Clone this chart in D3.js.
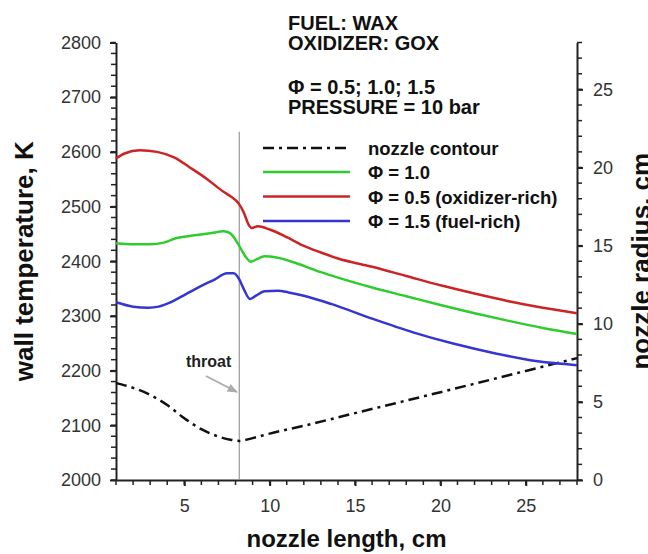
<!DOCTYPE html>
<html><head><meta charset="utf-8">
<script src="https://cdn.jsdelivr.net/npm/d3@7"></script>
<style>
body{margin:0;background:#fff}
svg{display:block}
text{font-family:"Liberation Sans",Arial,Helvetica,sans-serif}
</style>
</head><body>
<svg id="c" width="648" height="554"></svg>
<script>
// ---- data ----
const xTicks = [5, 10, 15, 20, 25];
const tTicks = [2000, 2100, 2200, 2300, 2400, 2500, 2600, 2700, 2800];
const rTicks = [0, 5, 10, 15, 20, 25];
const xMinor = d3.range(1, 29, 1);
const tMinor = d3.range(2000, 2801, 20);
const rMinor = d3.range(0, 29, 1);
const xDomain = [1, 28];
const tDomain = [2000, 2800];
const rDomain = [0, 28];
const throatX = 8.22;
const throatTopT = 2637;

const titleLines = ["FUEL: WAX", "OXIDIZER: GOX", "", "Φ = 0.5; 1.0; 1.5", "PRESSURE = 10 bar"];
const legendLabels = ["nozzle contour", "Φ = 1.0", "Φ = 0.5 (oxidizer-rich)", "Φ = 1.5 (fuel-rich)"];

// Φ = 0.5 (oxidizer-rich) wall temperature, K
const phi05 = [[1,2588],[1.5,2597],[2.4,2603],[3.4,2600],[4.4,2590],[5.3,2572],[6.3,2551],[7.3,2527],[7.7,2519],[8.2,2505],[8.5,2488],[8.75,2468],[8.95,2461],[9.3,2464],[10,2458],[11,2444],[12,2428],[13,2416],[14,2405],[16,2390],[18,2373],[20,2356],[22,2341],[24,2327],[26,2315],[28,2305]];
// Φ = 1.0
const phi10 = [[1,2433],[2,2431],[3,2431],[3.8,2434],[4.5,2442],[5.5,2447],[6.5,2451],[7.3,2455],[7.7,2451],[8.2,2429],[8.6,2408],[8.9,2399],[9.2,2403],[9.7,2409],[10.4,2407],[11.6,2396],[13,2380],[14,2370],[16,2352],[18,2336],[20,2320],[22,2305],[24,2291],[26,2278],[28,2267]];
// Φ = 1.5 (fuel-rich)
const phi15 = [[1,2325],[2,2317],[2.9,2315],[3.5,2317],[4.2,2325],[5.1,2340],[6,2355],[6.8,2367],[7.5,2378],[7.9,2378],[8.2,2368],[8.5,2348],[8.85,2331],[9.2,2337],[9.7,2345],[10.5,2346],[11.1,2343],[12,2337],[13.6,2322],[16,2295],[18.4,2270],[20.8,2249],[23.3,2231],[25.7,2217],[28,2210]];
// nozzle contour radius, cm
const contour = [[1,6.2],[2,5.9],[3,5.45],[4,4.8],[5,3.95],[6,3.25],[7,2.78],[7.7,2.58],[8.22,2.5],[9,2.68],[10,2.97],[12,3.47],[15,4.28],[20,5.62],[25,6.98],[28,7.8]];

// ---- layout ----
const svg = d3.select("#c");
const L = 116, R = 577, T = 42.5, B = 480;
const x = d3.scaleLinear().domain(xDomain).range([L, R]);
const y = d3.scaleLinear().domain(tDomain).range([B, T]);
const yr = d3.scaleLinear().domain(rDomain).range([B, T]);

const axisColor = "#222";
const fmt = d3.format("d");

function styleAxis(g){
  g.selectAll("path.domain").attr("stroke", axisColor).attr("stroke-width", 2);
  g.selectAll(".tick line").attr("stroke", axisColor).attr("stroke-width", 2);
  g.selectAll(".tick text").attr("fill", "#333").style("font-size", "18px")
    .style("font-family", '"Liberation Sans",Arial,sans-serif');
}

// minor ticks (drawn from scales)
const minor = svg.append("g");
minor.selectAll("line.mx").data(xMinor).join("line").attr("class", "mx")
  .attr("x1", d => x(d)).attr("x2", d => x(d)).attr("y1", B).attr("y2", B + 5)
  .attr("stroke", "#222").attr("stroke-width", 1.5);
minor.selectAll("line.mt").data(tMinor).join("line").attr("class", "mt")
  .attr("x1", L - 5).attr("x2", L).attr("y1", d => y(d)).attr("y2", d => y(d))
  .attr("stroke", "#222").attr("stroke-width", 1.5);
minor.selectAll("line.mr").data(rMinor).join("line").attr("class", "mr")
  .attr("x1", R).attr("x2", R + 5).attr("y1", d => yr(d)).attr("y2", d => yr(d))
  .attr("stroke", "#222").attr("stroke-width", 1.5);

// major axes
svg.append("g").attr("transform", `translate(0,${B})`)
  .call(d3.axisBottom(x).tickValues(xTicks).tickFormat(fmt).tickSize(6).tickSizeOuter(0).tickPadding(13))
  .call(styleAxis);
svg.append("g").attr("transform", `translate(${L},0)`)
  .call(d3.axisLeft(y).tickValues(tTicks).tickFormat(fmt).tickSize(6).tickSizeOuter(0).tickPadding(9))
  .call(styleAxis);
svg.append("g").attr("transform", `translate(${R},0)`)
  .call(d3.axisRight(yr).tickValues(rTicks).tickFormat(fmt).tickSize(6).tickSizeOuter(0).tickPadding(10))
  .call(styleAxis);

// throat line
svg.append("line")
  .attr("x1", x(throatX)).attr("x2", x(throatX))
  .attr("y1", y(throatTopT)).attr("y2", y(2000))
  .attr("stroke", "#999").attr("stroke-width", 1.2);

// curves
const lineT = d3.line().x(d => x(d[0])).y(d => y(d[1])).curve(d3.curveMonotoneX);
const lineR = d3.line().x(d => x(d[0])).y(d => yr(d[1])).curve(d3.curveMonotoneX);

const colors = { contour: "#111", phi10: "#2ecc2e", phi05: "#cc2424", phi15: "#3535d0" };
const dash = "11,5,3,5";

svg.append("path").datum(contour).attr("d", lineR)
  .attr("fill", "none").attr("stroke", colors.contour).attr("stroke-width", 2.5).attr("stroke-dasharray", dash);
svg.append("path").datum(phi05).attr("d", lineT)
  .attr("fill", "none").attr("stroke", colors.phi05).attr("stroke-width", 2.5);
svg.append("path").datum(phi10).attr("d", lineT)
  .attr("fill", "none").attr("stroke", colors.phi10).attr("stroke-width", 2.5);
svg.append("path").datum(phi15).attr("d", lineT)
  .attr("fill", "none").attr("stroke", colors.phi15).attr("stroke-width", 2.5);

// throat annotation
svg.append("defs").append("marker").attr("id", "arr").attr("viewBox", "0 0 10 10")
  .attr("refX", 9).attr("refY", 5).attr("markerWidth", 7).attr("markerHeight", 7).attr("orient", "auto")
  .append("path").attr("d", "M0,1 L10,5 L0,9 Z").attr("fill", "#aaa");
svg.append("text").attr("x", 186).attr("y", 367).text("throat")
  .style("font-size", "16px").style("font-weight", "bold").attr("fill", "#222");
svg.append("line").attr("x1", 206).attr("y1", 376).attr("x2", 237).attr("y2", 392)
  .attr("stroke", "#aaa").attr("stroke-width", 1.5).attr("marker-end", "url(#arr)");

// title block
const titleBase = [30, 50, 72, 94, 114];
titleLines.forEach((t, i) => {
  if (!t) return;
  svg.append("text").attr("x", 288).attr("y", titleBase[i]).text(t)
    .style("font-size", "20px").style("font-weight", "bold").attr("fill", "#111");
});

// legend
const legY = [148, 172, 196.5, 221];
const legStyles = [
  { c: colors.contour, d: dash },
  { c: colors.phi10, d: null },
  { c: colors.phi05, d: null },
  { c: colors.phi15, d: null }
];
legendLabels.forEach((lab, i) => {
  const ln = svg.append("line").attr("x1", 263).attr("x2", 350).attr("y1", legY[i]).attr("y2", legY[i])
    .attr("stroke", legStyles[i].c).attr("stroke-width", 2.5);
  if (legStyles[i].d) ln.attr("stroke-dasharray", legStyles[i].d);
  svg.append("text").attr("x", 368).attr("y", legY[i] + 7).text(lab)
    .style("font-size", "18.5px").style("font-weight", "bold").attr("fill", "#111");
});

// axis titles
svg.append("text").attr("x", (L + R) / 2).attr("y", 547).attr("text-anchor", "middle")
  .text("nozzle length, cm").style("font-size", "24px").style("font-weight", "bold").attr("fill", "#111");
svg.append("text").attr("transform", `translate(33,${(T + B) / 2}) rotate(-90)`).attr("text-anchor", "middle")
  .text("wall temperature, K").style("font-size", "26px").style("font-weight", "bold").attr("fill", "#111");
svg.append("text").attr("transform", `translate(650,${(T + B) / 2}) rotate(-90)`).attr("text-anchor", "middle")
  .text("nozzle radius, cm").style("font-size", "26px").style("font-weight", "bold").attr("fill", "#111");
</script>
</body></html>
